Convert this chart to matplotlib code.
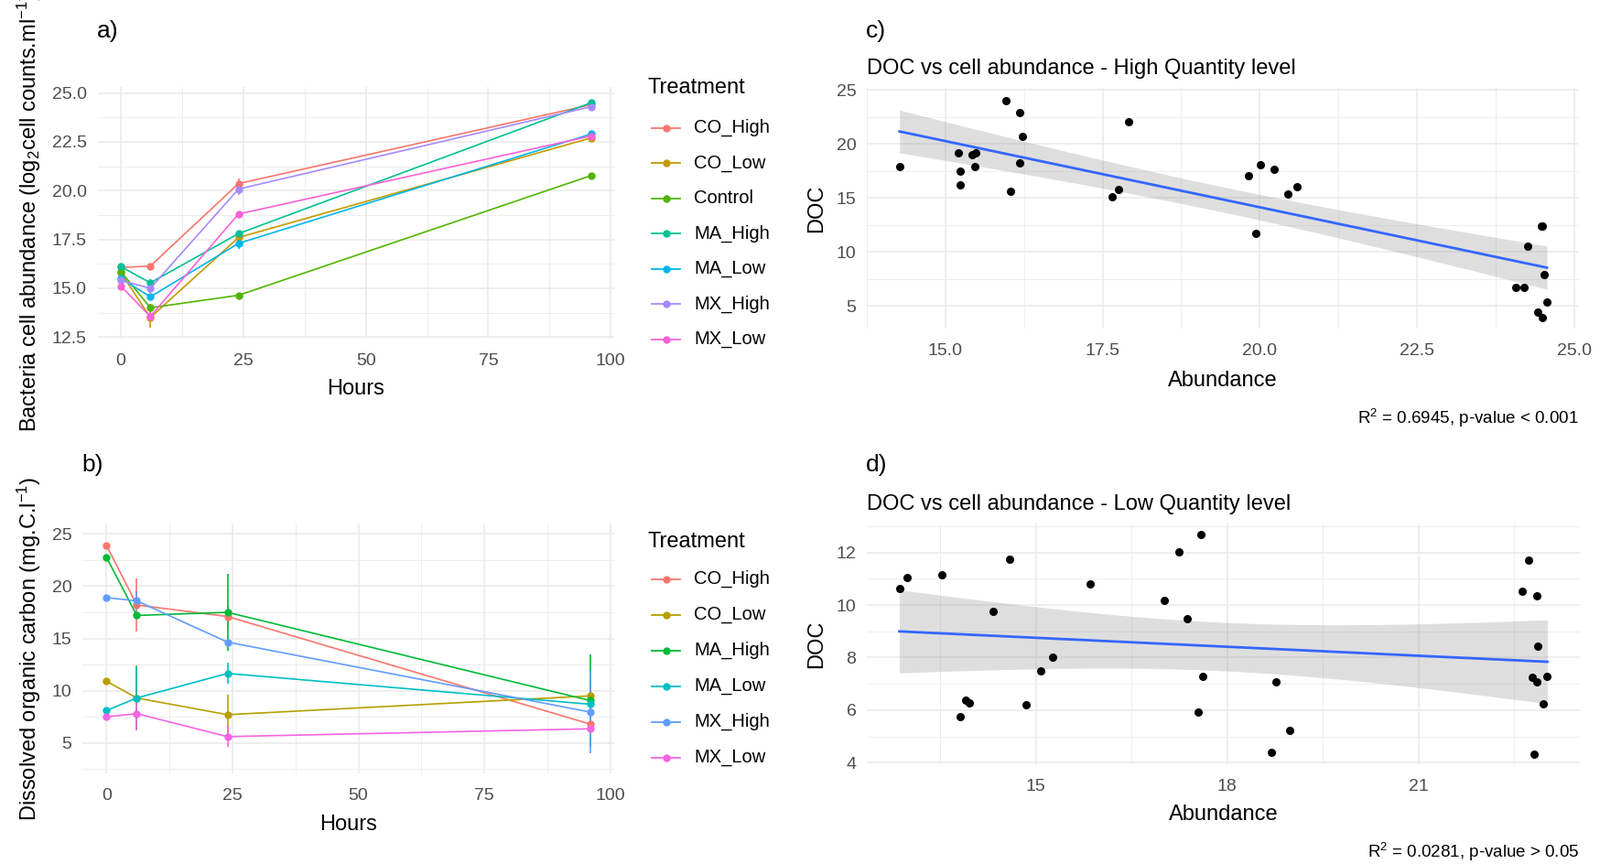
import numpy as np
import matplotlib.pyplot as plt
from matplotlib.lines import Line2D
from matplotlib.ticker import FormatStrFormatter

plt.rcParams['font.family'] = ['Liberation Sans', 'DejaVu Sans']
plt.rcParams['mathtext.fontset'] = 'custom'
plt.rcParams['mathtext.rm'] = 'Liberation Sans'
plt.rcParams['mathtext.it'] = 'Liberation Sans:italic'

W, H = 1748, 944

hours = [0, 6, 24, 96]

# a) bacteria abundance (log2 cells/ml)
abund_names = ['CO_High', 'CO_Low', 'Control', 'MA_High', 'MA_Low', 'MX_High', 'MX_Low']
abund_colors = ['#F8766D', '#C49A00', '#53B400', '#00C094', '#00B6EB', '#A58AFF', '#FB61D7']
abund_mean = [
    [16.06, 16.14, 20.36, 24.40],
    [15.80, 13.50, 17.60, 22.70],
    [15.85, 14.00, 14.64, 20.77],
    [16.10, 15.28, 17.80, 24.50],
    [15.50, 14.56, 17.30, 22.90],
    [15.40, 15.00, 20.08, 24.30],
    [15.10, 13.56, 18.80, 22.80],
]
abund_sd = [
    [0.05, 0.10, 0.25, 0.10],
    [0.10, 0.50, 0.20, 0.10],
    [0.10, 0.20, 0.10, 0.10],
    [0.10, 0.20, 0.15, 0.10],
    [0.10, 0.15, 0.30, 0.10],
    [0.10, 0.25, 0.30, 0.10],
    [0.10, 0.20, 0.10, 0.10],
]

# b) dissolved organic carbon (mg C/l)
doc_names = ['CO_High', 'CO_Low', 'MA_High', 'MA_Low', 'MX_High', 'MX_Low']
doc_colors = ['#F8766D', '#B79F00', '#00BA38', '#00BFC4', '#619CFF', '#F564E3']
doc_mean = [
    [23.90, 18.20, 17.10, 6.80],
    [10.90, 9.30, 7.70, 9.50],
    [22.75, 17.20, 17.50, 9.05],
    [8.10, 9.30, 11.65, 8.70],
    [18.90, 18.60, 14.65, 7.95],
    [7.50, 7.80, 5.60, 6.35],
]
doc_sd = [
    [0.30, 2.55, 1.00, 0.60],
    [0.30, 3.10, 1.90, 1.90],
    [0.30, 0.30, 3.70, 4.40],
    [0.30, 3.00, 1.00, 0.50],
    [0.30, 0.90, 0.30, 3.95],
    [0.30, 1.60, 1.00, 0.30],
]

# c) DOC vs abundance, high quantity
high_abund = [14.27, 15.21, 15.24, 15.24, 15.43, 15.48, 15.47, 15.97, 16.03, 16.18,
              16.18, 16.23, 17.65, 17.76, 17.92, 19.82, 20.01, 20.23, 19.94, 20.45,
              20.60, 24.48, 24.50, 24.27, 24.08, 24.21, 24.52, 24.57, 24.42, 24.50]
high_doc = [17.94, 19.18, 17.49, 16.21, 19.04, 19.21, 17.94, 24.01, 15.65, 22.88,
            18.22, 20.73, 15.08, 15.79, 22.03, 17.06, 18.08, 17.63, 11.67, 15.37,
            16.07, 12.40, 12.40, 10.54, 6.69, 6.69, 7.85, 5.31, 4.44, 3.87]

# d) DOC vs abundance, low quantity
low_abund = [12.86, 12.98, 13.52, 13.81, 13.90, 13.96, 14.33, 14.59, 14.85, 15.07,
             15.26, 15.85, 17.01, 17.25, 17.37, 17.54, 17.59, 17.61, 18.77, 18.98,
             18.70, 22.73, 22.63, 22.85, 22.87, 22.78, 22.85, 23.02, 22.95, 22.81]
low_doc = [10.63, 11.04, 11.15, 5.74, 6.39, 6.26, 9.76, 11.73, 6.20, 7.48,
           8.01, 10.81, 10.17, 12.03, 9.47, 5.91, 12.67, 7.30, 7.07, 5.22,
           4.39, 11.69, 10.52, 10.35, 8.43, 7.25, 7.07, 7.30, 6.25, 4.34]

GRID = '#EBEBEB'
TXT = '#4D4D4D'


def add_axes_px(fig, left, top, right, bottom):
    ax = fig.add_axes([left / W, 1 - bottom / H, (right - left) / W, (bottom - top) / H])
    ax.px = (left, top, right, bottom)
    return ax


def minors(major, lim):
    step = major[1] - major[0]
    m = np.arange(major[0] - step / 2, major[-1] + step, step)
    return [v for v in m if lim[0] <= v <= lim[1]]


def style(ax, xlim, ylim, xmaj, ymaj, xfmt=None, yfmt=None):
    ax.set_xlim(xlim)
    ax.set_ylim(ylim)
    ax.set_xticks(xmaj)
    ax.set_yticks(ymaj)
    ax.set_xticks(minors(xmaj, xlim), minor=True)
    ax.set_yticks(minors(ymaj, ylim), minor=True)
    if xfmt:
        ax.xaxis.set_major_formatter(FormatStrFormatter(xfmt))
    if yfmt:
        ax.yaxis.set_major_formatter(FormatStrFormatter(yfmt))
    ax.grid(which='major', color=GRID, lw=1.2)
    ax.grid(which='minor', color=GRID, lw=0.6)
    ax.set_axisbelow(True)
    ax.tick_params(which='both', length=0, labelsize=14, labelcolor=TXT)
    ax.tick_params(axis='x', pad=11.5)
    ax.tick_params(axis='y', pad=8.3)
    for s in ax.spines.values():
        s.set_visible(False)


def labels(ax, xlabel, xlab_y, ylabel, ylab_x):
    left, top, right, bottom = ax.px
    ax.set_xlabel(xlabel, fontsize=17, va='center')
    ax.xaxis.set_label_coords(0.5, (bottom - xlab_y) / (bottom - top))
    ax.set_ylabel(ylabel, fontsize=17, va='center')
    ax.yaxis.set_label_coords((ylab_x - left) / (right - left), 0.5)


def legend(fig, names, colors, title_y, first_y, step):
    fig.text(708 / W, 1 - title_y / H, 'Treatment', fontsize=17, ha='left', va='center')
    for i, (n, c) in enumerate(zip(names, colors)):
        y = 1 - (first_y + i * step) / H
        fig.add_artist(Line2D([712 / W, 743 / W], [y, y], color=c, lw=1.3,
                              transform=fig.transFigure))
        fig.add_artist(Line2D([727.5 / W], [y], marker='o', ms=5, color=c,
                              transform=fig.transFigure))
        fig.text(758 / W, y, n, fontsize=14.5, ha='left', va='center')


def lm_band(x, y, t=2.048):
    x = np.asarray(x)
    y = np.asarray(y)
    slope, icpt = np.polyfit(x, y, 1)
    xs = np.linspace(x.min(), x.max(), 80)
    fit = icpt + slope * xs
    resid = y - (icpt + slope * x)
    n = len(x)
    s = np.sqrt(np.sum(resid ** 2) / (n - 2))
    se = s * np.sqrt(1 / n + (xs - x.mean()) ** 2 / np.sum((x - x.mean()) ** 2))
    return xs, fit, fit - t * se, fit + t * se


fig = plt.figure(figsize=(W / 100, H / 100), dpi=100)

# a)
ax = add_axes_px(fig, 106.5, 95, 671.4, 370)
style(ax, (-4.8, 100.8), (12.42, 25.31), [0, 25, 50, 75, 100],
      [12.5, 15.0, 17.5, 20.0, 22.5, 25.0], yfmt='%.1f')
for m, sd, c in zip(abund_mean, abund_sd, abund_colors):
    ax.errorbar(hours, m, yerr=sd, color=c, lw=1.2, elinewidth=1.2, capsize=0,
                marker='o', ms=5)
labels(ax, 'Hours', 425, 'Bacteria cell abundance (log$_2$cell counts.ml$^{-1}$)', 32)
legend(fig, abund_names, abund_colors, 96.5, 139.8, 38.45)

# b)
ax = add_axes_px(fig, 90, 572, 671.2, 845)
style(ax, (-4.8, 100.8), (2.08, 26.0), [0, 25, 50, 75, 100], [5, 10, 15, 20, 25])
for m, sd, c in zip(doc_mean, doc_sd, doc_colors):
    ax.errorbar(hours, m, yerr=sd, color=c, lw=1.2, elinewidth=1.2, capsize=0,
                marker='o', ms=5)
labels(ax, 'Hours', 901, 'Dissolved organic carbon (mg.C.l$^{-1}$)', 32)
legend(fig, doc_names, doc_colors, 591.5, 632.5, 39)

# c)
ax = add_axes_px(fig, 947, 96, 1725, 359)
style(ax, (13.75, 25.08), (2.88, 25.2), [15.0, 17.5, 20.0, 22.5, 25.0],
      [5, 10, 15, 20, 25], xfmt='%.1f')
xs, fit, lo, hi = lm_band(high_abund, high_doc)
ax.fill_between(xs, lo, hi, color='#999999', alpha=0.32, lw=0)
ax.plot(xs, fit, color='#3366FF', lw=2)
ax.scatter(high_abund, high_doc, s=30, color='black', zorder=3)
labels(ax, 'Abundance', 416, 'DOC', 892)
ax.set_title('DOC vs cell abundance - High Quantity level', loc='left', x=0,
             y=(359 - 81.2) / 263, pad=0, fontsize=17)
fig.text(1725 / W, 1 - 457 / H, 'R$^2$ = 0.6945, p-value < 0.001',
         ha='right', va='center', fontsize=13.5)

# d)
ax = add_axes_px(fig, 947, 572, 1726, 835)
style(ax, (12.35, 23.53), (3.94, 13.1), [15, 18, 21], [4, 6, 8, 10, 12])
xs, fit, lo, hi = lm_band(low_abund, low_doc)
ax.fill_between(xs, lo, hi, color='#999999', alpha=0.32, lw=0)
ax.plot(xs, fit, color='#3366FF', lw=2)
ax.scatter(low_abund, low_doc, s=30, color='black', zorder=3)
labels(ax, 'Abundance', 890, 'DOC', 892)
ax.set_title('DOC vs cell abundance - Low Quantity level', loc='left', x=0,
             y=(835 - 557.2) / 263, pad=0, fontsize=17)
fig.text(1725 / W, 1 - 931 / H, 'R$^2$ = 0.0281, p-value > 0.05',
         ha='right', va='center', fontsize=13.5)

# panel letters
for lab, x, y in [('a)', 106, 34), ('b)', 89, 508.5), ('c)', 946, 34), ('d)', 946, 508.5)]:
    fig.text(x / W, 1 - y / H, lab, fontsize=19, ha='left', va='center')

fig.savefig('out.png', dpi=100)
